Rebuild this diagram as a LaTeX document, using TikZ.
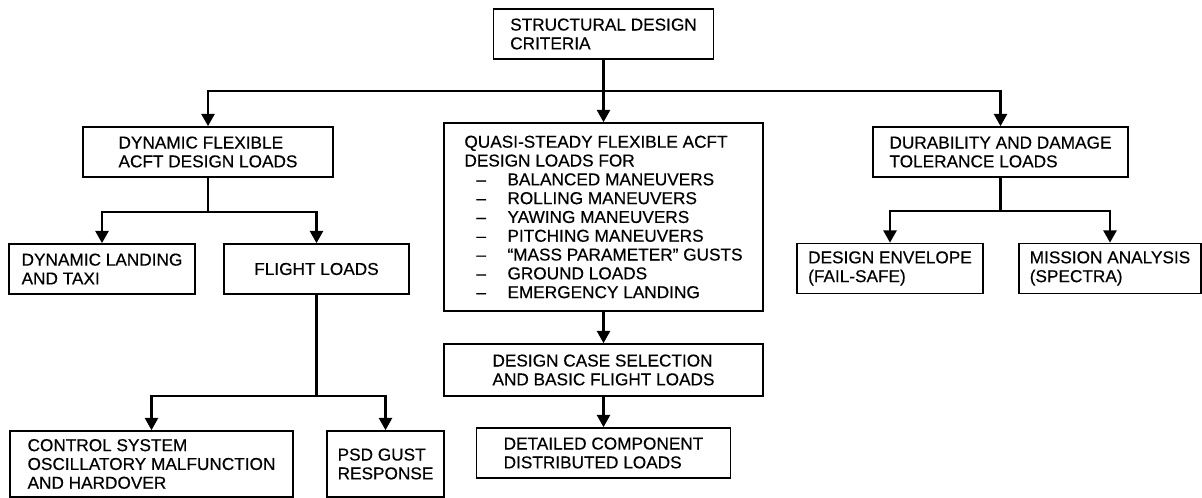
\documentclass[tikz,border=0pt]{standalone}
\usepackage{fontspec}
\setmainfont{Liberation Sans}[FakeBold=0.4]
\usepackage{tikz}
\usetikzlibrary{arrows.meta, positioning, calc}
\newcommand{\chartfont}{\fontsize{9.8pt}{10.7pt}\selectfont}
\newcommand{\qitem}[1]{\hspace*{6.8pt}\makebox[17.7pt][l]{--}#1}

\begin{document}
\begin{tikzpicture}[
      box/.style={rectangle, draw, line width=0.9pt, align=left,
                  minimum height=1.0cm, inner sep=0pt, font=\chartfont},
      bus/.style={line width=1.4pt},
      arr/.style={-{Triangle[length=7pt, width=7.4pt]}, line width=1.4pt},
    ]
      \useasboundingbox (0,0) rectangle (24.04, 9.96);

      \node[box, minimum width=4.4cm]  (crit)   at (12.07, 9.28)
            {STRUCTURAL DESIGN\\CRITERIA};

      \node[box, minimum width=5.0cm]  (dyn)    at (4.16, 6.92)
            {DYNAMIC FLEXIBLE\\ACFT DESIGN LOADS};
      \node[box, minimum width=6.38cm, minimum height=3.76cm]
                                       (quasi)  at (12.07, 5.62)
            {QUASI-STEADY FLEXIBLE ACFT\\
             DESIGN LOADS FOR\\
             \qitem{BALANCED MANEUVERS}\\
             \qitem{ROLLING MANEUVERS}\\
             \qitem{YAWING MANEUVERS}\\
             \qitem{PITCHING MANEUVERS}\\
             \qitem{``MASS PARAMETER'' GUSTS}\\
             \qitem{GROUND LOADS}\\
             \qitem{EMERGENCY LANDING}};
      \node[box, minimum width=5.1cm]  (dur)    at (20.01, 6.92)
            {DURABILITY AND DAMAGE\\TOLERANCE LOADS};

      \node[box, minimum width=3.72cm] (land)   at (2.04, 4.58)
            {DYNAMIC LANDING\\AND TAXI};
      \node[box, minimum width=3.7cm]  (flight) at (6.33, 4.58)
            {FLIGHT LOADS};
      \node[box, minimum width=3.72cm] (env)    at (17.8, 4.59)
            {DESIGN ENVELOPE\\(FAIL-SAFE)};
      \node[box, minimum width=3.64cm] (miss)   at (22.2, 4.59)
            {MISSION ANALYSIS\\(SPECTRA)};

      \node[box, minimum width=6.38cm, minimum height=1.04cm]
                                       (case)   at (12.07, 2.56)
            {DESIGN CASE SELECTION\\AND BASIC FLIGHT LOADS};
      \node[box, minimum width=5.08cm] (detail) at (12.07, 0.9)
            {DETAILED COMPONENT\\DISTRIBUTED LOADS};

      \node[box, minimum width=5.66cm, minimum height=1.32cm]
                                       (ctrl)   at (3.03, 0.68)
            {CONTROL SYSTEM\\OSCILLATORY MALFUNCTION\\AND HARDOVER};
      \node[box, minimum width=2.34cm, minimum height=1.32cm]
                                       (psd)    at (7.71, 0.68)
            {PSD GUST\\RESPONSE};

      % branch points
      \coordinate (topbus) at (12.07, 8.14);
      \coordinate (dynbus) at (4.16, 5.72);
      \coordinate (durbus) at (20.01, 5.74);
      \coordinate (fltbus) at (6.33, 2.04);

      \draw[bus] (crit) -- (topbus);
      \draw[arr] (topbus) -| (dyn);
      \draw[arr] (topbus) -- (quasi.north);
      \draw[arr] (topbus) -| (dur);

      \draw[bus] (dyn) -- (dynbus);
      \draw[arr] (dynbus) -| (land);
      \draw[arr] (dynbus) -| (flight);

      \draw[bus] (dur) -- (durbus);
      \draw[arr] (durbus) -| (env);
      \draw[arr] (durbus) -| (miss);

      \draw[bus] (flight) -- (fltbus);
      \draw[arr] (fltbus) -| (ctrl);
      \draw[arr] (fltbus) -| (psd);

      \draw[arr] (quasi) -- (case);
      \draw[arr] (case) -- (detail);
    \end{tikzpicture}
\end{document}
